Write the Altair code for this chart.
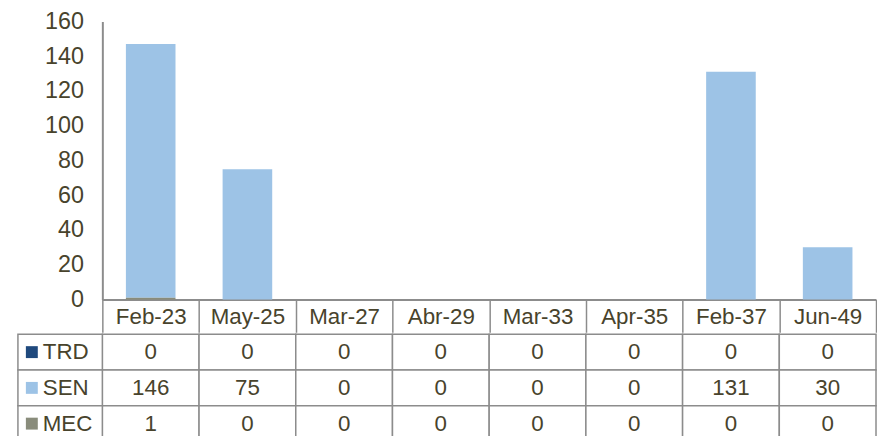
import altair as alt
import pandas as pd

categories = ["Feb-23", "May-25", "Mar-27", "Abr-29", "Mar-33", "Apr-35", "Feb-37", "Jun-49"]
series = ["TRD", "SEN", "MEC"]
trd = [0, 0, 0, 0, 0, 0, 0, 0]
sen = [146, 75, 0, 0, 0, 0, 131, 30]
mec = [1, 0, 0, 0, 0, 0, 0, 0]
colors = ["#1f497d", "#9dc3e6", "#898c7b"]
stack_rank = {"MEC": 0, "SEN": 1, "TRD": 2}
y_ticks = [0, 20, 40, 60, 80, 100, 120, 140, 160]

rows = []
for s, vals in zip(series, [trd, sen, mec]):
    for c, v in zip(categories, vals):
        rows.append({"series": s, "cat": c, "value": v, "rank": stack_rank[s]})
df = pd.DataFrame(rows)
leg_df = pd.DataFrame({"series": series})

TEXT = "#48432c"
GRID = "#8c8c8c"
FONT = "Liberation Sans"
TFS = 22.5
color_scale = alt.Scale(domain=series, range=colors)
band0 = alt.Scale(paddingInner=0, paddingOuter=0)

bars = alt.Chart(df).mark_bar(width=alt.RelativeBandSize(0.513)).encode(
    x=alt.X("cat:N", sort=categories, scale=band0,
            axis=alt.Axis(title=None, labelAngle=0, labelFontSize=TFS, labelColor=TEXT,
                          labelFont=FONT, labelPadding=-16, labelBaseline="middle",
                          tickBand="extent", tickSize=33, tickColor=GRID, tickWidth=1.5,
                          domainColor=GRID, domainWidth=2)),
    y=alt.Y("value:Q", stack="zero", scale=alt.Scale(domain=[0, 160], nice=False),
            axis=alt.Axis(title=None, values=y_ticks, grid=False, ticks=False,
                          labelFontSize=23.5, labelColor=TEXT, labelFont=FONT, labelPadding=19,
                          domainColor=GRID, domainWidth=2)),
    color=alt.Color("series:N", scale=color_scale, legend=None),
    order=alt.Order("rank:Q"),
).properties(width=779, height=280)

cell_base = alt.Chart(df).encode(
    x=alt.X("cat:N", sort=categories, scale=band0, axis=None),
    y=alt.Y("series:N", sort=series, scale=band0, axis=None),
)
leg_base = alt.Chart(leg_df).encode(
    y=alt.Y("series:N", sort=series, scale=band0, axis=None),
)
table = alt.layer(
    cell_base.mark_rect(fill="white", stroke=GRID, strokeWidth=1.5),
    cell_base.mark_text(fontSize=TFS, color=TEXT, font=FONT).encode(text="value:Q"),
    # legend column to the left of the value cells
    leg_base.mark_rect(fill="white", stroke=GRID, strokeWidth=1.5).encode(
        x=alt.value(-85), x2=alt.value(0)),
    leg_base.mark_square(size=144, opacity=1, filled=True).encode(
        x=alt.value(-71), color=alt.Color("series:N", scale=color_scale, legend=None)),
    leg_base.mark_text(align="left", fontSize=TFS, color=TEXT, font=FONT).encode(
        x=alt.value(-60), text="series:N"),
).properties(width=779, height=108)

chart = alt.vconcat(bars, table, spacing=0).properties(
    padding={"left": 9, "top": 0, "right": 0, "bottom": 0}
).configure(font=FONT).configure_view(stroke=None)

chart.save("out.html", embed_options={"renderer": "svg", "actions": False})
